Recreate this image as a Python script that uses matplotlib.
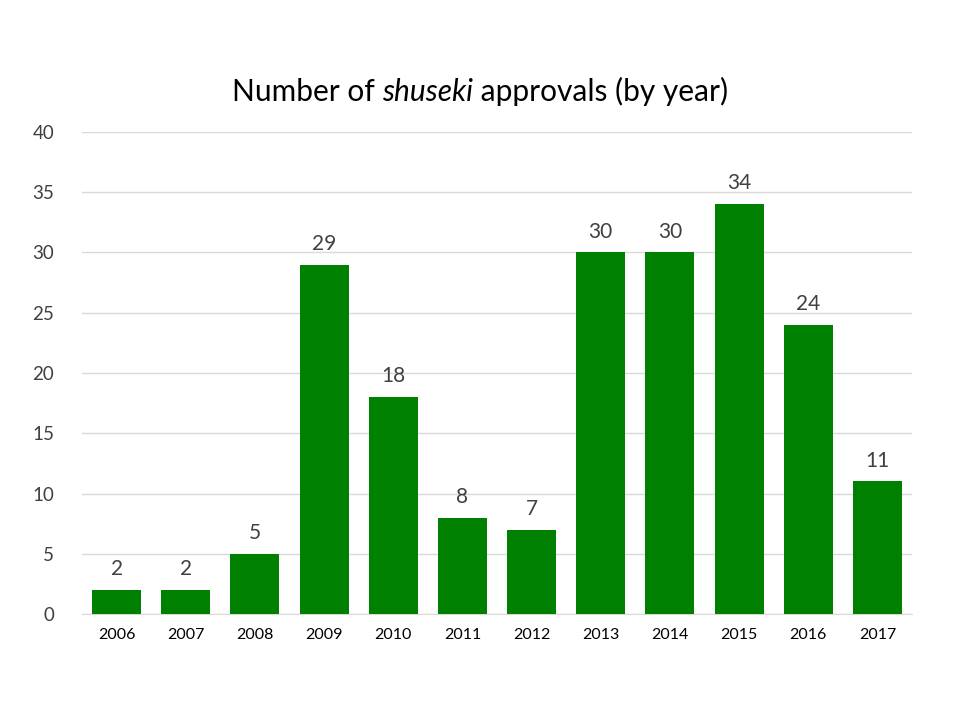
import matplotlib
matplotlib.use("Agg")
import matplotlib.pyplot as plt

years = ["2006", "2007", "2008", "2009", "2010", "2011",
         "2012", "2013", "2014", "2015", "2016", "2017"]
approvals = [2, 2, 5, 29, 18, 8, 7, 30, 30, 34, 24, 11]
y_ticks = [0, 5, 10, 15, 20, 25, 30, 35, 40]

plt.rcParams['font.family'] = ['Lato', 'DejaVu Sans']

fig = plt.figure(figsize=(9.6, 7.2), dpi=100)
ax = fig.add_axes([0.0854, 0.1472, 0.8646, 0.6695])

x = range(len(years))
bars = ax.bar(x, approvals, width=0.71, color='#008000', zorder=3)
for xi, v in zip(x, approvals):
    ax.text(xi, v + 0.9, str(v), ha='center', va='bottom', fontsize=15, color='#404040')

ax.set_xlim(-0.5, len(years) - 0.5)
ax.set_ylim(0, 40)
ax.set_yticks(y_ticks)
ax.set_xticks(list(x))
ax.set_xticklabels(years)
ax.tick_params(axis='y', length=0, labelsize=13.5, colors='#404040', pad=20)
ax.tick_params(axis='x', length=0, labelsize=11.5, labelcolor='black', pad=10)
ax.grid(axis='y', color='#d9d9d9', linewidth=1, zorder=0)
for side in ['top', 'right', 'left']:
    ax.spines[side].set_visible(False)
ax.spines['bottom'].set_color('#d9d9d9')

# title with italic word, built from three pieces
fig.canvas.draw()
r = fig.canvas.get_renderer()
parts = [("Number of ", 'normal'), ("shuseki", 'italic'), (" approvals (by year)", 'normal')]
texts = []
for s, st in parts:
    t = fig.text(0, 0.86, s, fontsize=21.5, style=st, va='baseline', ha='left')
    texts.append(t)
widths = [t.get_window_extent(r).width for t in texts]
total = sum(widths)
x0 = (480 - total / 2)
for t, w in zip(texts, widths):
    t.set_x(x0 / 960)
    x0 += w

fig.savefig("out.png", dpi=100)
